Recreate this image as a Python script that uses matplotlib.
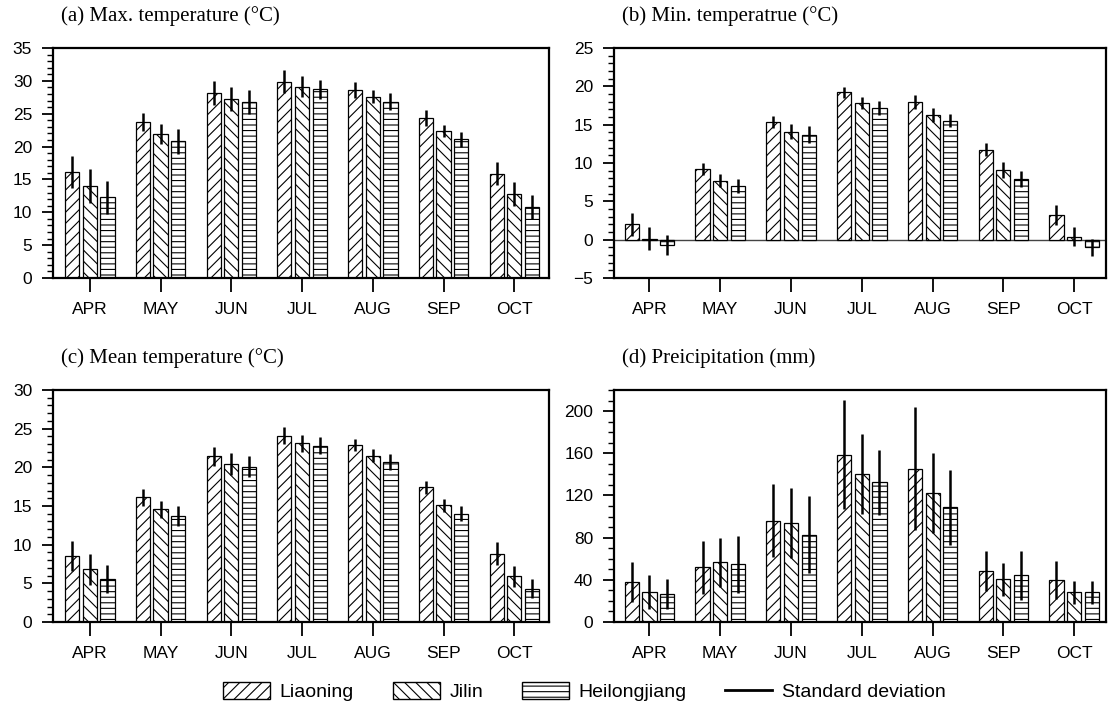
import numpy as np
import matplotlib
matplotlib.use("Agg")
from matplotlib import pyplot as plt
from matplotlib.patches import Patch
from matplotlib.lines import Line2D
from matplotlib.ticker import MultipleLocator

months = ["APR", "MAY", "JUN", "JUL", "AUG", "SEP", "OCT"]
provinces = ["Liaoning", "Jilin", "Heilongjiang"]

# (a) max temperature
tmax_ln = [16.1, 23.7, 28.2, 29.9, 28.6, 24.4, 15.9]
tmax_jl = [14.0, 21.9, 27.2, 29.1, 27.6, 22.4, 12.8]
tmax_hl = [12.3, 20.8, 26.8, 28.7, 26.8, 21.1, 10.8]
tmax_ln_sd = [2.4, 1.4, 1.8, 1.7, 1.2, 1.2, 1.7]
tmax_jl_sd = [2.6, 1.5, 1.8, 1.6, 1.0, 0.9, 1.8]
tmax_hl_sd = [2.5, 1.9, 1.8, 1.5, 1.3, 1.1, 1.8]

# (b) min temperature
tmin_ln = [2.0, 9.2, 15.3, 19.2, 18.0, 11.7, 3.2]
tmin_jl = [0.1, 7.7, 14.1, 17.8, 16.3, 9.1, 0.4]
tmin_hl = [-0.7, 7.0, 13.7, 17.2, 15.5, 7.9, -1.0]
tmin_ln_sd = [1.5, 0.8, 0.8, 0.75, 0.9, 0.85, 1.35]
tmin_jl_sd = [1.5, 0.8, 1.0, 0.8, 0.9, 1.05, 1.2]
tmin_hl_sd = [1.3, 0.95, 1.1, 0.9, 0.85, 1.05, 1.1]

# (c) mean temperature
tmean_ln = [8.5, 16.1, 21.4, 24.1, 22.9, 17.4, 8.85]
tmean_jl = [6.8, 14.6, 20.4, 23.1, 21.5, 15.1, 5.9]
tmean_hl = [5.6, 13.7, 20.1, 22.8, 20.7, 14.0, 4.3]
tmean_ln_sd = [1.95, 1.05, 1.2, 1.1, 0.8, 0.85, 1.45]
tmean_jl_sd = [2.0, 1.1, 1.4, 1.1, 0.85, 0.85, 1.35]
tmean_hl_sd = [1.8, 1.35, 1.4, 1.1, 1.0, 0.95, 1.25]

# (d) precipitation
pre_ln = [37.8, 51.7, 96.2, 158.7, 145.4, 48.3, 39.4]
pre_jl = [28.3, 56.5, 93.7, 140.6, 122.2, 40.3, 28.3]
pre_hl = [26.7, 54.9, 82.5, 132.4, 108.9, 44.1, 28.3]
pre_ln_sd = [19, 25, 35, 52, 58, 19, 18]
pre_jl_sd = [16, 23, 33, 38, 38, 16, 11]
pre_hl_sd = [14, 27, 36.5, 31, 35.5, 23, 11]

hatches = ["///", "\\\\\\", "---"]
plt.rcParams["hatch.linewidth"] = 0.8
plt.rcParams["font.family"] = "Liberation Sans"

fig = plt.figure(figsize=(11.11, 7.11), dpi=100)

panels = [
    ([0.0477, 0.609, 0.4464, 0.3235], (-0.52, 6.49), "(a) Max. temperature (\u00b0C)",
     [tmax_ln, tmax_jl, tmax_hl], [tmax_ln_sd, tmax_jl_sd, tmax_hl_sd],
     (0, 35), 5, 1),
    ([0.5527, 0.609, 0.4428, 0.3235], (-0.5, 6.45), "(b) Min. temperatrue (\u00b0C)",
     [tmin_ln, tmin_jl, tmin_hl], [tmin_ln_sd, tmin_jl_sd, tmin_hl_sd],
     (-5, 25), 5, 1),
    ([0.0477, 0.1252, 0.4464, 0.3263], (-0.52, 6.49), "(c) Mean temperature (\u00b0C)",
     [tmean_ln, tmean_jl, tmean_hl], [tmean_ln_sd, tmean_jl_sd, tmean_hl_sd],
     (0, 30), 5, 1),
    ([0.5527, 0.1252, 0.4428, 0.3263], (-0.5, 6.45), "(d) Preicipitation (mm)",
     [pre_ln, pre_jl, pre_hl], [pre_ln_sd, pre_jl_sd, pre_hl_sd],
     (0, 220), 40, 10),
]

x = np.arange(len(months))
width = 0.2
offsets = [-0.25, 0, 0.25]

for rect, xlim, title, series, sds, ylim, major, minor in panels:
    ax = fig.add_axes(rect)
    for vals, sd, off, h in zip(series, sds, offsets, hatches):
        ax.bar(x + off, vals, width, color="white", edgecolor="black",
               linewidth=0.9, hatch=h, zorder=2)
        ax.errorbar(x + off, vals, yerr=sd, fmt="none", ecolor="black",
                    elinewidth=1.8, capsize=0, zorder=3)
    if ylim[0] < 0:
        ax.axhline(0, color="#444444", linewidth=1.0, zorder=1)
    ax.set_xlim(*xlim)
    ax.set_ylim(*ylim)
    ax.set_xticks(x)
    ax.set_xticklabels(months)
    ax.yaxis.set_major_locator(MultipleLocator(major))
    ax.yaxis.set_minor_locator(MultipleLocator(minor))
    ax.tick_params(axis="x", which="major", direction="out", length=10,
                   width=1.3, labelsize=12.5, pad=7)
    ax.tick_params(axis="y", which="major", direction="out", length=8,
                   width=1.3, labelsize=12.5, pad=7)
    ax.tick_params(axis="y", which="minor", direction="out", length=4,
                   width=1.0)
    ax.tick_params(top=False, right=False)
    for s in ax.spines.values():
        s.set_linewidth(1.6)
    fig.text(rect[0] + 0.007, rect[1] + rect[3] + 0.045, title,
             family="Liberation Serif", fontsize=15, va="center")

handles = [Patch(facecolor="white", edgecolor="black", hatch=h, label=p)
           for h, p in zip(hatches, provinces)]
handles.append(Line2D([0], [0], color="black", linewidth=2,
                      label="Standard deviation"))
fig.legend(handles=handles, loc="center", bbox_to_anchor=(0.526, 0.027),
           ncol=4, frameon=False, fontsize=14, handlelength=2.4,
           handleheight=0.9, columnspacing=2.0, handletextpad=0.5)

fig.savefig("out.png", dpi=100)
